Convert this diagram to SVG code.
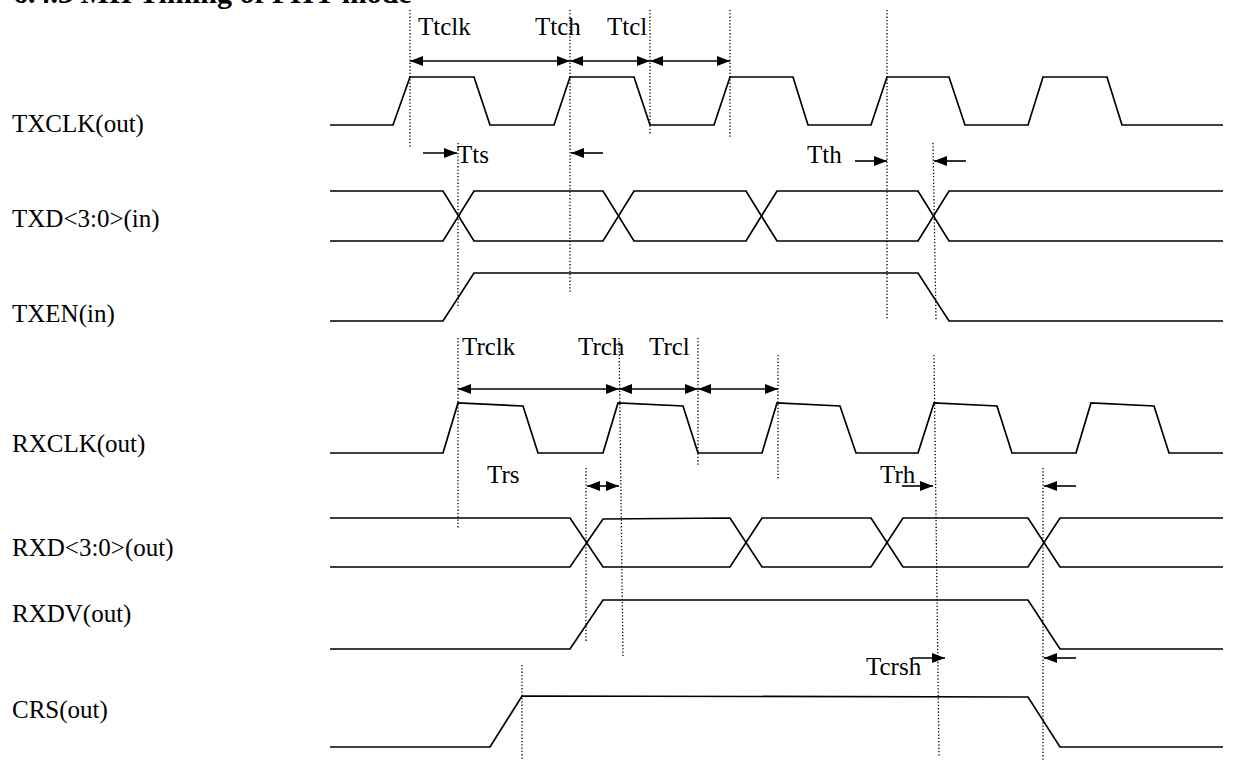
<svg xmlns="http://www.w3.org/2000/svg" width="1233" height="760" viewBox="0 0 1233 760">
<style>
.t{font-family:"Liberation Serif","Times New Roman",serif;font-size:25px;fill:#000}
.title{font-family:"Liberation Serif","Times New Roman",serif;font-size:30px;font-weight:bold;fill:#000}
.w{fill:none;stroke:#000;stroke-width:1.7;stroke-linejoin:miter}
.d{fill:none;stroke:#000;stroke-width:1.3;stroke-dasharray:1.3 2}
.a{fill:none;stroke:#000;stroke-width:1.6}
.s{marker-end:url(#ah)}
.b{marker-start:url(#ah);marker-end:url(#ah)}
</style>
<defs>
<marker id="ah" markerUnits="userSpaceOnUse" markerWidth="13" markerHeight="10" viewBox="0 0 13 10" refX="13" refY="5" orient="auto-start-reverse">
<path d="M0,0 L13,5 L0,10 z" fill="#000"/>
</marker>
</defs>
<rect width="1233" height="760" fill="#fff"/>
<text class="title" x="13" y="3">6.4.3 MII Timing of PHY mode</text>

<g id="labels">
<text class="t" x="12" y="132">TXCLK(out)</text>
<text class="t" x="12" y="227">TXD&lt;3:0&gt;(in)</text>
<text class="t" x="12" y="322">TXEN(in)</text>
<text class="t" x="12" y="452">RXCLK(out)</text>
<text class="t" x="12" y="556">RXD&lt;3:0&gt;(out)</text>
<text class="t" x="12" y="622">RXDV(out)</text>
<text class="t" x="12" y="718">CRS(out)</text>
</g>

<g id="TXCLK">
<path class="w" d="M330,125 H393 L410,77 H474 L490,125 H554 L570,77 H634 L650,125 H714 L730,77 H793 L808,125 H871 L887,77 H949 L965,125 H1028 L1043,77 H1107 L1122,125 H1223"/>
</g>
<g id="TXD">
<path class="w" d="M330,191 H443 L474,241 H603 L634,191 H746 L777,241 H918 L949,191 H1223"/>
<path class="w" d="M330,241 H443 L474,191 H603 L634,241 H746 L777,191 H918 L949,241 H1223"/>
</g>
<g id="TXEN">
<path class="w" d="M330,321 H443 L474,273 H918 L949,321 H1223"/>
</g>
<g id="RXCLK">
<path class="w" d="M330,453 H443 L458,403 L523,406 L538,453 H603 L618,403 L683,406 L698,453 H762 L777,403 L840,406 L856,453 H918 L934,403 L997,406 L1012,453 H1076 L1091,403 L1154,406 L1169,453 H1223"/>
</g>
<g id="RXD">
<path class="w" d="M330,518 H570 L603,567 H730 L762,518 H871 L903,567 H1028 L1060,518 H1223"/>
<path class="w" d="M330,567 H570 L603,519 L730,518 L762,567 H871 L903,518 H1028 L1060,567 H1223"/>
</g>
<g id="RXDV">
<path class="w" d="M330,649 H570 L603,600 H1028 L1060,649 H1223"/>
</g>
<g id="CRS">
<path class="w" d="M330,747 H490 L522,696 L1028,697 L1060,747 H1223"/>
</g>

<g id="connectors">
<path class="d" d="M410,10 V148"/>
<path class="d" d="M570,10 V293"/>
<path class="d" d="M650,10 V135"/>
<path class="d" d="M730,10 V137"/>
<path class="d" d="M887,10 V320"/>
<path class="d" d="M458,143 V307"/>
<path class="d" d="M933,143 L936,320"/>
<path class="d" d="M458,338 V528"/>
<path class="d" d="M619,338 L623,657"/>
<path class="d" d="M698,338 V465"/>
<path class="d" d="M778,355 V480"/>
<path class="d" d="M934,355 L939,757"/>
<path class="d" d="M586,468 V642"/>
<path class="d" d="M1043,468 V760"/>
<path class="d" d="M522,665 V760"/>

<line class="a b" x1="410" y1="61" x2="570" y2="61"/>
<line class="a b" x1="570" y1="61" x2="650" y2="61"/>
<line class="a b" x1="650" y1="61" x2="730" y2="61"/>
<line class="a s" x1="423" y1="153" x2="457" y2="153"/>
<line class="a s" x1="603" y1="153" x2="571" y2="153"/>
<line class="a s" x1="855" y1="161" x2="887" y2="161"/>
<line class="a s" x1="966" y1="161" x2="934" y2="161"/>
<line class="a b" x1="458" y1="389" x2="619" y2="389"/>
<line class="a b" x1="619" y1="389" x2="698" y2="389"/>
<line class="a b" x1="698" y1="389" x2="778" y2="389"/>
<line class="a b" x1="587" y1="486" x2="619" y2="486"/>
<line class="a s" x1="902" y1="486" x2="933" y2="486"/>
<line class="a s" x1="1076" y1="486" x2="1044" y2="486"/>
<line class="a s" x1="912" y1="658" x2="945" y2="658"/>
<line class="a s" x1="1076" y1="658" x2="1044" y2="658"/>
</g>

<g id="timing-labels">
<text class="t" x="418" y="35">Ttclk</text>
<text class="t" x="535" y="35">Ttch</text>
<text class="t" x="607" y="35">Ttcl</text>
<text class="t" x="457" y="163">Tts</text>
<text class="t" x="807" y="163">Tth</text>
<text class="t" x="462" y="355">Trclk</text>
<text class="t" x="578" y="355">Trch</text>
<text class="t" x="649" y="355">Trcl</text>
<text class="t" x="487" y="483">Trs</text>
<text class="t" x="880" y="483">Trh</text>
<text class="t" x="866" y="675">Tcrsh</text>
</g>
</svg>
